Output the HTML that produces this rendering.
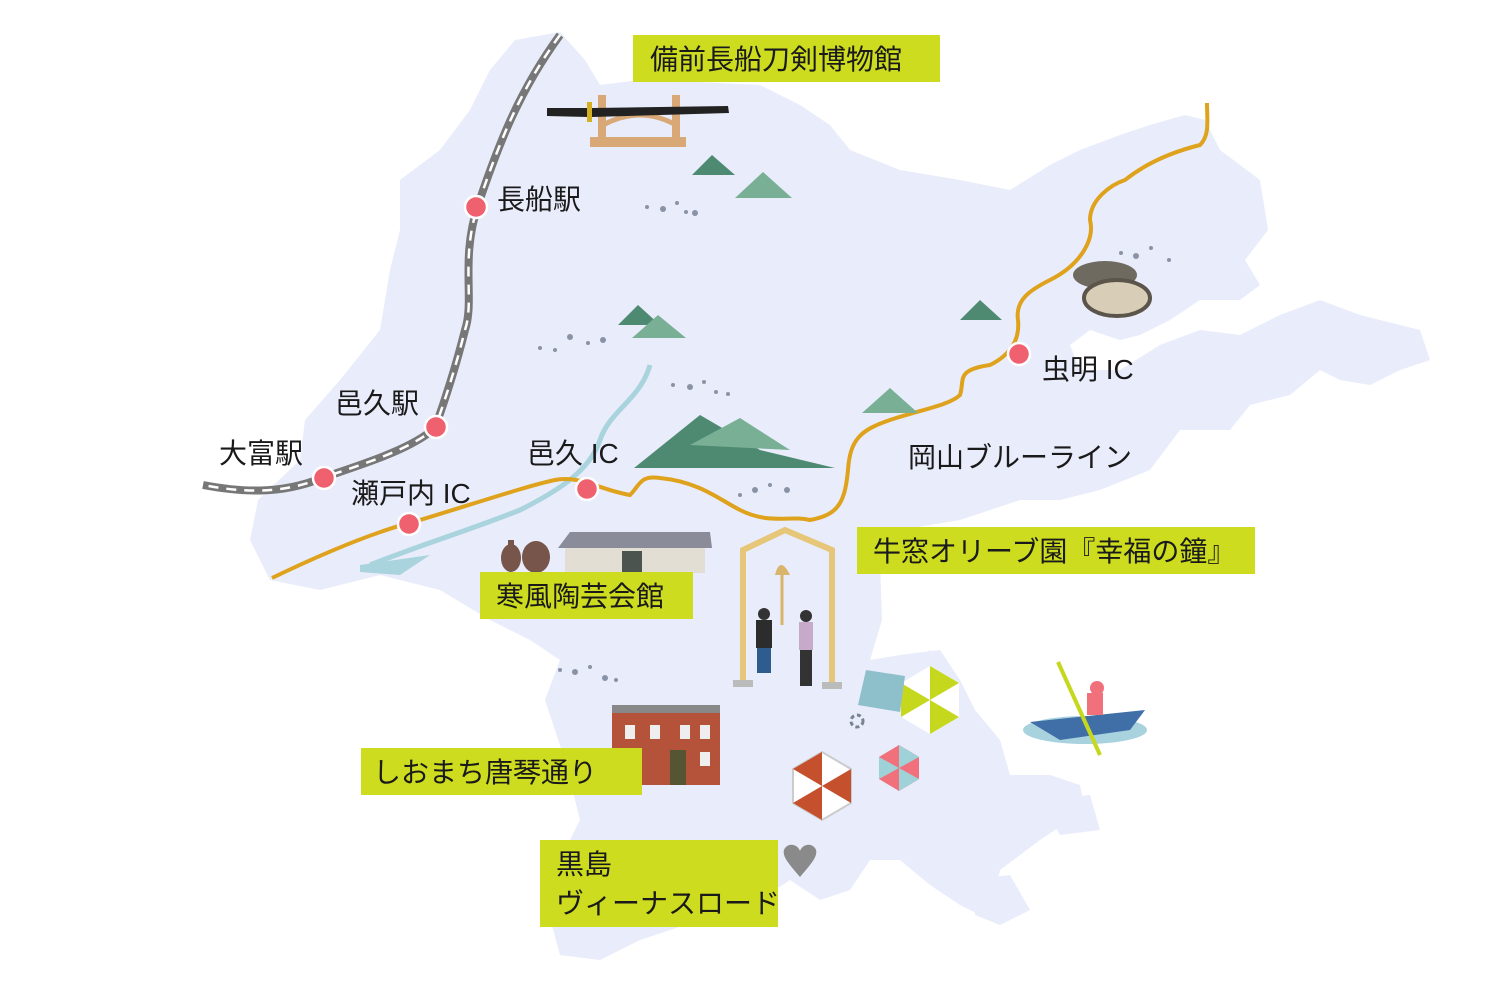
<!DOCTYPE html>
<html><head><meta charset="utf-8">
<style>
html,body{margin:0;padding:0;background:#fff;}
svg{display:block}
text{font-family:"Liberation Sans","Noto Sans CJK JP",sans-serif;fill:#1a1a1a;}
</style></head><body>
<svg width="1500" height="1000" viewBox="0 0 1500 1000" xmlns="http://www.w3.org/2000/svg">
<g fill="#e9ecfa">
<polygon points="515,40 560,32 585,60 600,85 640,80 700,82 760,85 800,105 830,125 850,150 900,170 960,180 1010,190 1050,165 1080,150 1120,135 1150,125 1185,115 1205,120 1220,150 1260,180 1268,230 1245,260 1260,285 1240,300 1200,300 1170,320 1140,335 1120,340 1090,330 1070,345 1080,370 1120,370 1160,345 1200,330 1240,335 1280,315 1320,300 1360,315 1420,330 1430,360 1400,370 1370,385 1340,380 1320,370 1290,395 1250,405 1230,430 1180,430 1150,470 1100,490 1060,500 1020,500 960,520 900,530 880,560 882,620 870,660 900,655 940,650 960,680 975,710 1000,740 1010,775 1050,775 1080,785 1085,810 1040,840 1000,870 990,920 960,905 930,885 900,860 870,860 850,890 820,900 790,880 760,900 700,920 640,940 600,960 560,955 545,900 560,860 580,820 565,760 545,700 560,660 530,640 490,620 440,590 380,575 320,590 270,580 250,540 258,500 300,460 305,420 340,380 380,330 390,270 400,230 400,180 440,150 470,110 490,70"/>
<polygon points="880,680 930,650 960,690 940,720 900,730"/>
<polygon points="970,880 1010,875 1030,910 1000,925 975,915"/>
<polygon points="1040,800 1090,795 1100,830 1060,835"/>
</g>
<path d="M650,365 C640,400 610,410 600,440 C590,470 560,490 520,510 C470,530 420,545 370,565" stroke="#a9d3dd" stroke-width="5" fill="none"/>
<path d="M360,565 L430,555 L400,575 L360,572 Z" fill="#a9d3dd"/>
<path d="M560,35 C520,90 500,140 478,205 C460,260 475,300 465,330 C455,370 445,400 435,428 C410,450 360,465 322,478 C280,495 240,492 203,485" stroke="#777" stroke-width="8" fill="none"/>
<path d="M560,35 C520,90 500,140 478,205 C460,260 475,300 465,330 C455,370 445,400 435,428 C410,450 360,465 322,478 C280,495 240,492 203,485" stroke="#fff" stroke-width="2.5" stroke-dasharray="10 8" fill="none"/>
<path d="M272,578 C330,550 380,530 420,520 C470,505 530,485 555,480 C580,475 600,490 630,495 C640,485 640,475 660,478 C700,482 720,500 740,510 C770,525 790,515 810,520 C840,515 845,500 848,470 C850,440 860,430 890,420 C920,410 950,405 960,395 C965,380 955,370 990,365 C1010,355 1020,340 1018,320 C1015,300 1030,290 1050,280 C1080,265 1095,240 1090,220 C1090,200 1110,185 1125,180 C1150,160 1180,150 1200,145 C1210,135 1207,120 1207,103" stroke="#dfa21c" stroke-width="4" fill="none"/>
<g>
<polygon points="692,175 712,155 735,175" fill="#4e8a72"/>
<polygon points="735,198 763,172 792,198" fill="#79b095"/>
<polygon points="618,325 638,305 660,325" fill="#4e8a72"/>
<polygon points="632,338 658,315 686,338" fill="#79b095"/>
<polygon points="960,320 980,300 1002,320" fill="#4e8a72"/>
<polygon points="862,413 890,388 918,413" fill="#79b095"/>
<polygon points="634,468 700,415 760,450 835,468" fill="#4e8a72"/>
<polygon points="690,445 740,418 790,450" fill="#79b095"/>
</g>
<g fill="#8a93a6">
<circle cx="647" cy="207" r="2"/><circle cx="663" cy="209" r="3"/><circle cx="677" cy="203" r="2"/><circle cx="686" cy="212" r="2"/><circle cx="695" cy="213" r="3"/>
<circle cx="540" cy="348" r="2"/><circle cx="555" cy="350" r="2"/><circle cx="570" cy="337" r="3"/><circle cx="588" cy="343" r="2"/><circle cx="603" cy="340" r="3"/>
<circle cx="673" cy="385" r="2"/><circle cx="690" cy="387" r="3"/><circle cx="704" cy="382" r="2"/><circle cx="716" cy="392" r="2"/><circle cx="728" cy="394" r="2"/>
<circle cx="740" cy="495" r="2"/><circle cx="755" cy="490" r="3"/><circle cx="770" cy="485" r="2"/><circle cx="787" cy="490" r="3"/>
<circle cx="1121" cy="253" r="2"/><circle cx="1136" cy="256" r="3"/><circle cx="1151" cy="248" r="2"/><circle cx="1169" cy="260" r="2"/>
<circle cx="560" cy="670" r="2"/><circle cx="575" cy="672" r="3"/><circle cx="590" cy="667" r="2"/><circle cx="605" cy="678" r="3"/><circle cx="616" cy="680" r="2"/>
</g>
<g fill="#f0616f" stroke="#fff" stroke-width="2.5">
<circle cx="476" cy="207" r="11"/><circle cx="436" cy="427" r="11"/><circle cx="324" cy="478" r="11"/>
<circle cx="409" cy="524" r="11"/><circle cx="587" cy="489" r="11"/><circle cx="1019" cy="354" r="11"/>
</g>
<rect x="598" y="95" width="8" height="50" fill="#d8a877"/><rect x="672" y="95" width="8" height="50" fill="#d8a877"/>
<rect x="590" y="137" width="96" height="10" fill="#d8a877"/>
<path d="M603,125 Q640,105 676,125" stroke="#d8a877" stroke-width="5" fill="none"/>
<path d="M547,108 L588,108 L588,117 L547,116 Z" fill="#222"/>
<rect x="587" y="102" width="5" height="20" fill="#d4b020"/>
<path d="M592,108 L728,106 L729,113 L592,117 Z" fill="#222"/>
<ellipse cx="1105" cy="275" rx="32" ry="14" fill="#6f6a60"/>
<ellipse cx="1117" cy="298" rx="33" ry="18" fill="#d8cdb6" stroke="#5a544b" stroke-width="4"/>
<polygon points="558,548 570,532 710,532 712,548" fill="#8a8d99"/>
<rect x="565" y="548" width="140" height="25" fill="#e3ded4"/>
<rect x="622" y="551" width="20" height="22" fill="#4c5450"/>
<ellipse cx="511" cy="558" rx="10" ry="14" fill="#77554a"/><rect x="508" y="540" width="6" height="10" fill="#77554a"/>
<ellipse cx="536" cy="557" rx="14" ry="16" fill="#77554a"/>
<path d="M743,685 L743,550 L785,530 L832,550 L832,685" stroke="#e6c679" stroke-width="6" fill="none"/>
<path d="M775,575 Q780,555 790,575 Z" fill="#d9b46b"/>
<line x1="782" y1="575" x2="782" y2="625" stroke="#d9b46b" stroke-width="3"/>
<rect x="733" y="680" width="20" height="7" fill="#bbb"/><rect x="822" y="682" width="20" height="7" fill="#bbb"/>
<rect x="756" y="620" width="16" height="28" fill="#2c2c2c"/><rect x="757" y="648" width="14" height="25" fill="#2f5c8e"/>
<circle cx="764" cy="614" r="6" fill="#333"/>
<rect x="799" y="622" width="14" height="28" fill="#c7a9c9"/><rect x="800" y="650" width="12" height="36" fill="#333"/>
<circle cx="806" cy="616" r="6" fill="#333"/>
<rect x="612" y="705" width="108" height="80" fill="#b5533a"/>
<rect x="612" y="705" width="108" height="8" fill="#888"/>
<g fill="#eee"><rect x="625" y="725" width="10" height="14"/><rect x="650" y="725" width="10" height="14"/><rect x="680" y="725" width="10" height="14"/><rect x="700" y="725" width="10" height="14"/><rect x="625" y="752" width="10" height="14"/><rect x="700" y="752" width="10" height="14"/></g>
<rect x="670" y="750" width="16" height="35" fill="#553"/>
<!-- umbrellas as hexagons -->
<g transform="translate(930,700)">
<polygon points="0,-34 29,-17 29,17 0,34 -29,17 -29,-17" fill="#fff"/>
<polygon points="0,0 0,-34 29,-17" fill="#c6d81d"/><polygon points="0,0 29,17 0,34" fill="#c6d81d"/><polygon points="0,0 -29,17 -29,-17" fill="#c6d81d"/>
</g>
<polygon points="866,670 905,676 900,712 858,705" fill="#8ec0cc"/>
<g transform="translate(822,786)">
<polygon points="0,-34 29,-17 29,17 0,34 -29,17 -29,-17" fill="#fff" stroke="#ccc" stroke-width="2"/>
<polygon points="0,0 0,-34 -29,-17" fill="#c4502d"/><polygon points="0,0 29,-17 29,17" fill="#c4502d"/><polygon points="0,0 0,34 -29,17" fill="#c4502d"/>
</g>
<g transform="translate(899,768)">
<polygon points="0,-23 20,-11 20,11 0,23 -20,11 -20,-11" fill="#f0707c"/>
<polygon points="0,0 0,-23 20,-11" fill="#9ed1d8"/><polygon points="0,0 20,11 0,23" fill="#9ed1d8"/><polygon points="0,0 -20,11 -20,-11" fill="#9ed1d8"/>
</g>
<circle cx="857" cy="721" r="6" fill="none" stroke="#7a8294" stroke-width="3" stroke-dasharray="4 3"/>
<ellipse cx="1085" cy="730" rx="62" ry="14" fill="#a7d2de"/>
<path d="M1030,722 L1145,710 L1130,730 L1060,740 Z" fill="#3f6fa6"/>
<line x1="1058" y1="662" x2="1100" y2="755" stroke="#c6d81d" stroke-width="4"/>
<rect x="1087" y="693" width="16" height="22" fill="#f0707c"/><circle cx="1097" cy="688" r="7" fill="#f0707c"/>
<path d="M800,877 C790,865 780,855 785,848 C790,842 798,845 800,851 C802,845 810,842 815,848 C820,855 810,865 800,877 Z" fill="#8a8a8a"/>
<g fill="#cddc1e">
<rect x="633" y="35" width="307" height="47"/>
<rect x="480" y="572" width="213" height="47"/>
<rect x="857" y="527" width="398" height="47"/>
<rect x="361" y="748" width="281" height="47"/>
<rect x="540" y="840" width="238" height="87"/>
</g>
<g font-size="28">
<text x="650" y="69">備前長船刀剣博物館</text>
<text x="496" y="606">寒風陶芸会館</text>
<text x="873" y="561">牛窓オリーブ園『幸福の鐘』</text>
<text x="373" y="782">しおまち唐琴通り</text>
<text x="556" y="874">黒島</text>
<text x="556" y="913">ヴィーナスロード</text>
<text x="497" y="209">長船駅</text>
<text x="335" y="413">邑久駅</text>
<text x="219" y="463">大富駅</text>
<text x="351" y="503">瀬戸内 IC</text>
<text x="527" y="463">邑久 IC</text>
<text x="1042" y="379">虫明 IC</text>
<text x="908" y="467">岡山ブルーライン</text>
</g>
</svg>
</body></html>
